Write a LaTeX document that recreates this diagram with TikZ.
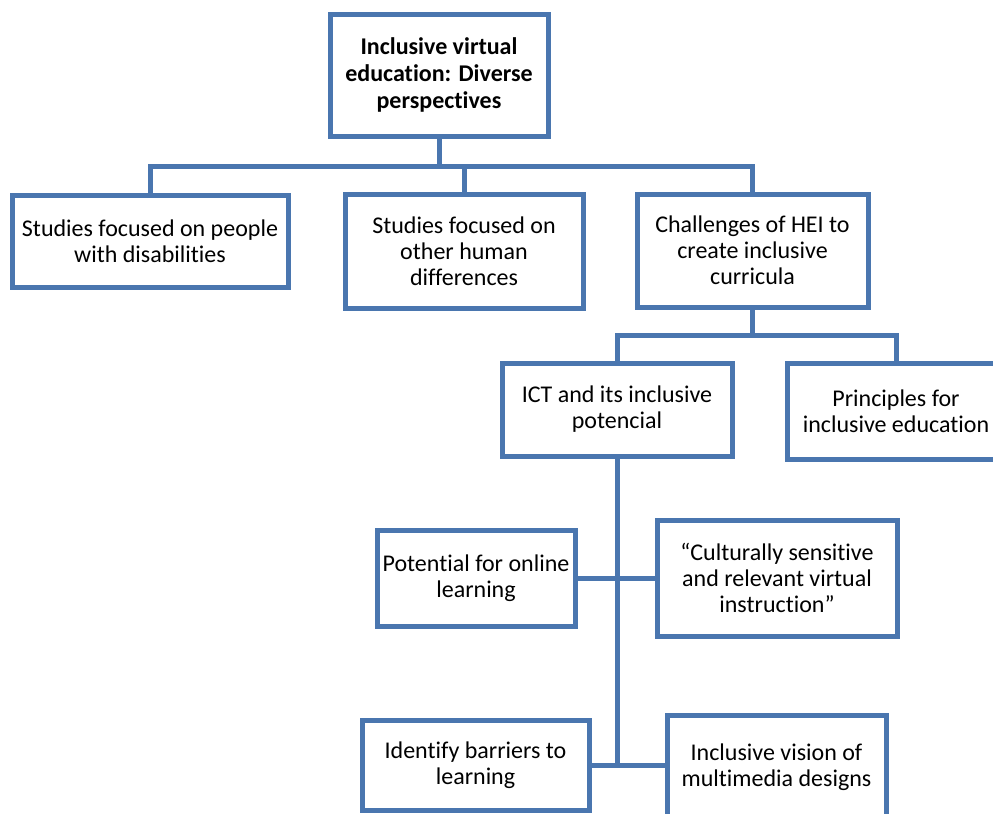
\documentclass[tikz,border=0pt]{standalone}
\usepackage{fontspec}
\setmainfont[Ligatures=NoCommon]{Carlito}
\usepackage{xcolor}
\usepackage{tikz}
\usetikzlibrary{positioning,calc}
\definecolor{boxblue}{RGB}{74,118,175}
\tikzset{topic/.style={draw=boxblue,line width=2.5pt,rectangle,inner sep=0pt,align=center,fill=white,
    font=\fontsize{12}{13}\selectfont}}
\tikzset{link/.style={draw=boxblue,line width=2.5pt}}

\begin{document}
\begin{tikzpicture}[x=0.5pt, y=-0.5pt]
\useasboundingbox (0,0) rectangle (993,814);
\clip (0,0) rectangle (993,814);
    % first level
    \node[topic,minimum width=109pt,minimum height=61pt,font=\fontsize{12}{13.5}\selectfont\bfseries] (top) at (439,75) {Inclusive virtual\\education: Diverse\\perspectives};
    \node[topic,minimum width=138pt,minimum height=46pt] (dis) at (150,241) {Studies focused on people\\with disabilities};
    \node[topic,minimum width=119pt,minimum height=57pt] (hum) at (464,251) {Studies focused on\\other human\\differences};
    \node[topic,minimum width=115.5pt,minimum height=56.5pt] (hei) at (752.5,250.5) {Challenges of HEI to\\create inclusive\\curricula};
    % second level
    \node[topic,minimum width=115pt,minimum height=46.5pt] (ict) at (617,409.5) {ICT and its inclusive\\potencial};
    \node[topic,minimum width=109pt,minimum height=48pt] (prin) at (896,411) {Principles for\\inclusive education};
    % third level
    \node[topic,minimum width=99pt,minimum height=48pt] (pot) at (476,578) {Potential for online\\learning};
    \node[topic,minimum width=120pt,minimum height=58pt] (cult) at (777,578) {“Culturally sensitive\\and relevant virtual\\instruction”};
    \node[topic,minimum width=113.5pt,minimum height=45pt] (bar) at (475.5,765) {Identify barriers to\\learning};
    \node[topic,minimum width=109.5pt,minimum height=52pt] (vis) at (776.5,767) {Inclusive vision of\\multimedia designs};
    % connectors
    \coordinate (bus1) at (439,166);
    \coordinate (bus2) at (752.5,335);
    \coordinate (trunk) at (617,766);
    \draw[link] (top.south) -- (bus1);
    \draw[link] (dis.north) |- (bus1) -| (hei.north);
    \draw[link] (hum.north) -- (hum.north |- bus1);
    \draw[link] (hei.south) -- (bus2);
    \draw[link] (ict.north) |- (bus2) -| (prin.north);
    \draw[link] (ict.south) -- (trunk);
    \draw[link] (pot.east) -- (cult.west);
    \draw[link] (bar.east) -- (bar.east -| vis.west);
\end{tikzpicture}
\end{document}
